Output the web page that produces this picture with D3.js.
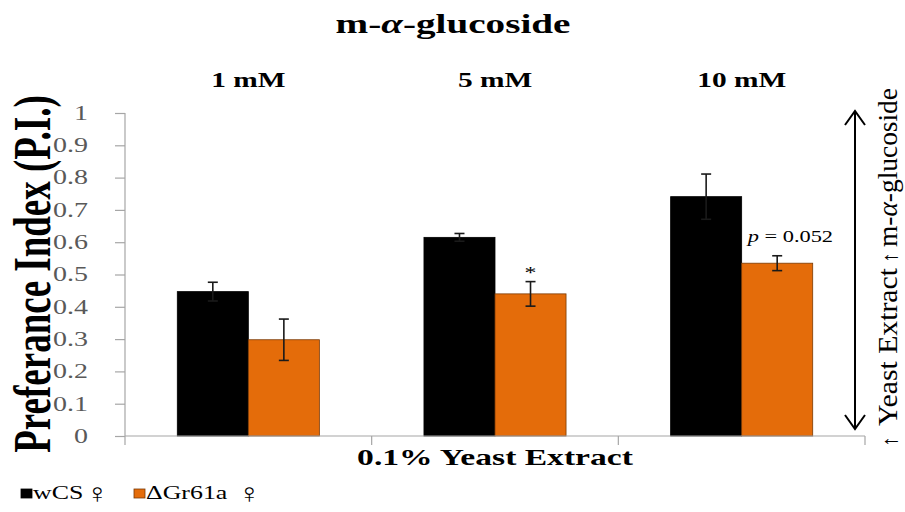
<!DOCTYPE html>
<html>
<head>
<meta charset="utf-8">
<script src="https://cdn.jsdelivr.net/npm/d3@7"></script>
<style>
  html, body { margin: 0; padding: 0; background: #fff; }
  svg { display: block; }
  svg text { font-family: "Liberation Serif", "Times New Roman", Times, serif; }
</style>
</head>
<body>
<svg id="chart" width="905" height="512"></svg>
<script>
// Concentrations tested (one group of bars each)
const categories = ["1 mM", "5 mM", "10 mM"];
// Genotypes
const seriesNames = ["wCS", "ΔGr61a"];
// Mean preference index per concentration
const wcsValues = [0.447, 0.615, 0.741];
const gr61aValues = [0.298, 0.440, 0.535];
// Standard error per concentration
const wcsErrors = [0.029, 0.012, 0.070];
const gr61aErrors = [0.064, 0.038, 0.023];
// Significance annotations placed over the ΔGr61a bars
const gr61aNotes = ["", "*", "p = 0.052"];
// Y axis ticks
const yTicks = [0, 0.1, 0.2, 0.3, 0.4, 0.5, 0.6, 0.7, 0.8, 0.9, 1];

const colors = ["#000000", "#E46C0A"];
const SX = 1.4; // horizontal stretch applied to the lettering

const svg = d3.select("#chart");

const plotLeft = 125, plotRight = 865, plotTop = 113, plotBottom = 436;

const x0 = d3.scaleBand().domain(categories).range([plotLeft, plotRight]).padding(0);
const bw = x0.bandwidth();
const x1 = d3.scaleBand().domain(seriesNames).range([bw * 0.212, bw * 0.788]).padding(0);
const y = d3.scaleLinear().domain([0, 1]).range([plotBottom, plotTop]);

// stretched text helper
function sText(parent, x, yy, str, o = {}) {
  const sx = o.sx === undefined ? SX : o.sx;
  const g = parent.append("g")
    .attr("transform", `translate(${x},${yy}) scale(${sx},1)` + (o.rotate ? ` rotate(${o.rotate})` : ""));
  const t = g.append("text")
    .attr("text-anchor", o.anchor || "middle")
    .attr("font-size", o.size || 16)
    .attr("font-weight", o.weight || "normal")
    .attr("fill", o.fill || "#000");
  if (o.dy) t.attr("dy", o.dy);
  if (o.len) t.attr("textLength", o.len).attr("lengthAdjust", "spacingAndGlyphs");
  return t.text(str);
}

// Bars
const data = categories.map((c, i) => ({
  cat: c,
  bars: [
    { s: seriesNames[0], v: wcsValues[i], e: wcsErrors[i], note: "" },
    { s: seriesNames[1], v: gr61aValues[i], e: gr61aErrors[i], note: gr61aNotes[i] }
  ]
}));

const groups = svg.append("g").selectAll("g").data(data).join("g")
  .attr("transform", d => `translate(${x0(d.cat)},0)`);

groups.selectAll("rect").data(d => d.bars).join("rect")
  .attr("x", d => x1(d.s))
  .attr("y", d => y(d.v))
  .attr("width", x1.bandwidth())
  .attr("height", d => y(0) - y(d.v))
  .attr("fill", (d, i) => colors[i])
  .attr("stroke", (d, i) => i === 1 ? "#7a3a05" : "#000")
  .attr("stroke-width", 0.8);

// Error bars (upper and lower) and significance notes
groups.each(function (d) {
  const g = d3.select(this);
  d.bars.forEach(b => {
    const cx = x1(b.s) + x1.bandwidth() / 2;
    const yt = y(b.v + b.e), yb = y(b.v - b.e);
    g.append("line").attr("x1", cx).attr("x2", cx).attr("y1", yt).attr("y2", yb)
      .attr("stroke", "#1a1a1a").attr("stroke-width", 1.6);
    [yt, yb].forEach(yy => {
      g.append("line").attr("x1", cx - 5).attr("x2", cx + 5).attr("y1", yy).attr("y2", yy)
        .attr("stroke", "#1a1a1a").attr("stroke-width", 1.6);
    });
    if (b.note === "*") {
      sText(g, cx, yt - 4, "*", { size: 17 });
    } else if (b.note) {
      const t = sText(g, x1(b.s) + 6, yt - 14, "", { size: 16, anchor: "start" });
      t.append("tspan").attr("font-style", "italic").text("p");
      t.append("tspan").text(" = 0.052");
    }
  });
});

// Y axis
const yAxis = svg.append("g").attr("transform", `translate(${plotLeft},0)`)
  .call(d3.axisLeft(y).tickValues(yTicks).tickSize(10).tickFormat(""));
yAxis.select(".domain").attr("stroke", "#a6a6a6").attr("stroke-width", 1.2)
  .attr("d", `M0,${y(1)}V${plotBottom + 9}`);
yAxis.selectAll(".tick line").attr("stroke", "#a6a6a6").attr("stroke-width", 1.2);
const fmt = d3.format("~g");
yTicks.forEach(t => sText(svg, 88, y(t), fmt(t), { size: 20, anchor: "end", dy: "0.34em", fill: "#595959" }));

// X axis baseline with boundary ticks
const xAxisG = svg.append("g");
xAxisG.append("line").attr("x1", plotLeft).attr("x2", plotRight).attr("y1", plotBottom).attr("y2", plotBottom)
  .attr("stroke", "#a6a6a6").attr("stroke-width", 1.2);
const bounds = categories.map(c => x0(c)).concat([x0(categories[categories.length - 1]) + bw]);
xAxisG.selectAll("line.bt").data(bounds.slice(1)).join("line").attr("class", "bt")
  .attr("x1", d => d).attr("x2", d => d).attr("y1", plotBottom).attr("y2", plotBottom + 9)
  .attr("stroke", "#a6a6a6").attr("stroke-width", 1.2);

// Category headers above the plot
categories.forEach(c => sText(svg, x0(c) + bw / 2, 87, c, { size: 21, weight: "bold" }));

// Title
const title = sText(svg, 453, 33, "", { size: 28, weight: "bold" });
title.append("tspan").text("m-");
title.append("tspan").attr("font-style", "italic").text("α");
title.append("tspan").text("-glucoside");

// Axis titles
sText(svg, 495, 465, "0.1% Yeast Extract", { size: 24, weight: "bold" });
sText(svg, 50, 274, "Preferance Index (P.I.)", { size: 37, weight: "bold", rotate: -90 });

// Choice indicator on the right: double arrow and side labels
const ax = 855, ay1 = 111, ay2 = 429;
svg.append("line").attr("x1", ax).attr("x2", ax).attr("y1", ay1).attr("y2", ay2)
  .attr("stroke", "#000").attr("stroke-width", 2);
svg.append("path").attr("d", `M${ax - 10},${ay1 + 14}L${ax},${ay1}L${ax + 10},${ay1 + 14}`)
  .attr("fill", "none").attr("stroke", "#000").attr("stroke-width", 2);
svg.append("path").attr("d", `M${ax - 10},${ay2 - 14}L${ax},${ay2}L${ax + 10},${ay2 - 14}`)
  .attr("fill", "none").attr("stroke", "#000").attr("stroke-width", 2);
const sideOpts = { size: 28, anchor: "start", rotate: -90, sx: 1 };
sText(svg, 897, 447, "↑", { ...sideOpts, size: 22 });
sText(svg, 897, 426, "Yeast Extract", { ...sideOpts, len: 158 });
sText(svg, 897, 263, "↑", { ...sideOpts, size: 22 });
const rt = sText(svg, 897, 247, "", { ...sideOpts, len: 159 });
rt.append("tspan").text("m-");
rt.append("tspan").attr("font-style", "italic").text("α");
rt.append("tspan").text("-glucoside");

// Legend
const legend = svg.append("g");
seriesNames.forEach((s, i) => {
  const lx = [21, 134][i];
  const symX = [86, 238][i];
  legend.append("rect").attr("x", lx).attr("y", 489).attr("width", 11).attr("height", 9)
    .attr("fill", colors[i]).attr("stroke", i === 1 ? "#7a3a05" : "#000").attr("stroke-width", 0.8);
  sText(legend, lx + 12, 499, s, { size: 18.5, anchor: "start" });
  sText(legend, symX, 503, "♀", { size: 28, anchor: "start", sx: 1.1 });
});
</script>
</body>
</html>
